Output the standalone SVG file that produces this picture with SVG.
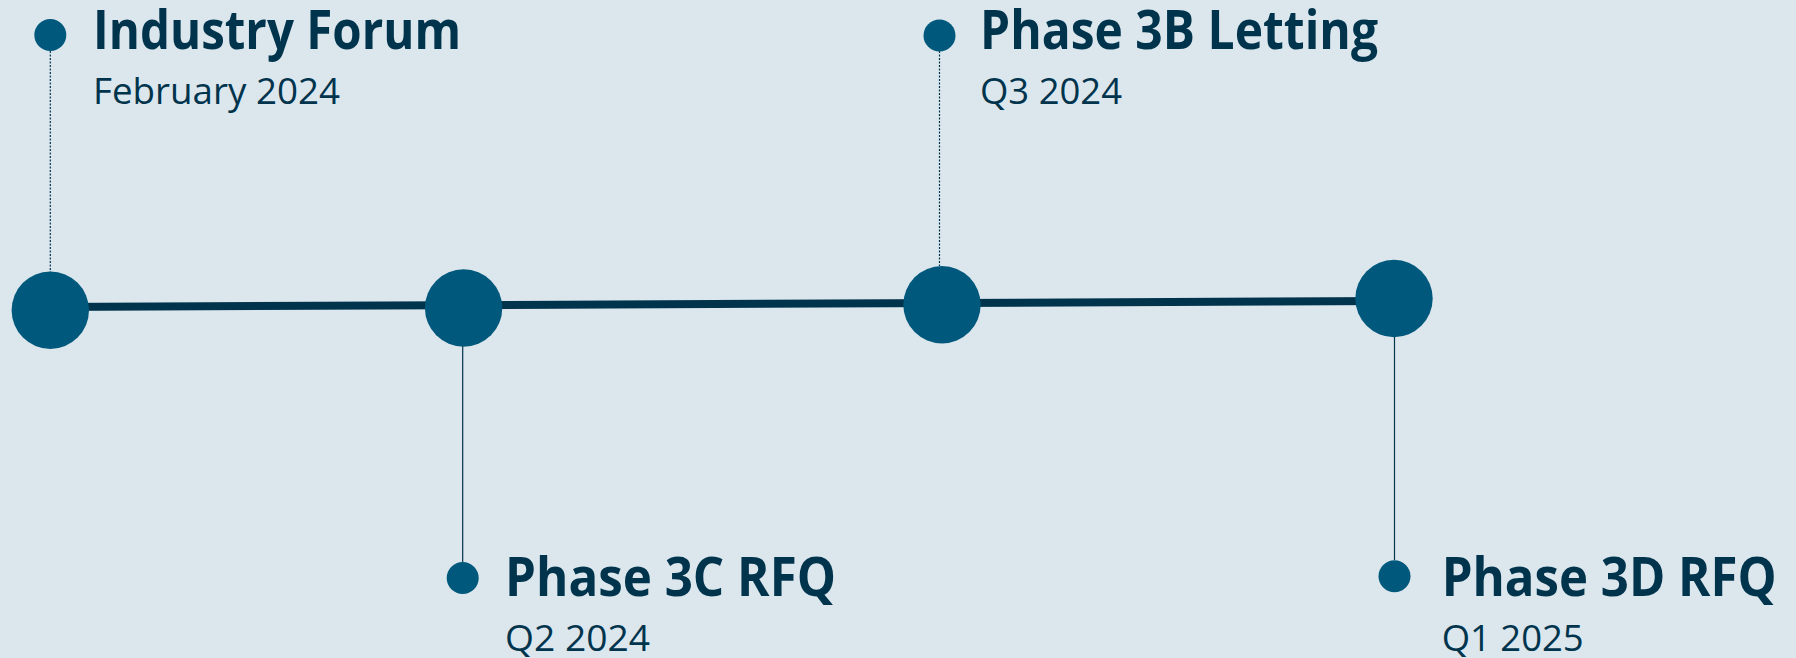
<svg xmlns="http://www.w3.org/2000/svg" width="1796" height="658" viewBox="0 0 1796 658">
<style>
.bg{fill:#DCE6ED}
.big{fill:#00597C}
.dot{fill:#00597C}
.main{stroke:#00344D;stroke-width:8;fill:none}
.lead{stroke:#00344D;stroke-width:1.2;fill:none}
.dotted{stroke-dasharray:2 1.5}
.title{font-family:"Open Sans","Noto Sans",sans-serif;font-weight:bold;font-size:53px;fill:#00344D}
.sub{font-family:"Open Sans","Noto Sans",sans-serif;font-size:36px;fill:#00344D}
</style>
<rect class="bg" x="0" y="0" width="1796" height="658"/>
<g id="connectors">
<path class="main" d="M50 307 L1394 301"/>
<path class="lead dotted" d="M50.3 51 L50.3 272"/>
<path class="lead dotted" d="M939.5 51 L939.5 266"/>
<path class="lead" d="M462.7 346 L462.7 562"/>
<path class="lead" d="M1394.5 337 L1394.5 560"/>
</g>
<g id="industry-forum">
<circle class="big" cx="50.3" cy="310.2" r="38.7"/>
<circle class="dot" cx="50.3" cy="35" r="16"/>
<text class="title" x="93" y="49" textLength="368" lengthAdjust="spacingAndGlyphs">Industry Forum</text>
<text class="sub" x="93" y="104" textLength="247" lengthAdjust="spacingAndGlyphs">February 2024</text>
</g>
<g id="phase-3c">
<circle class="big" cx="463.6" cy="308" r="38.7"/>
<circle class="dot" cx="462.7" cy="578" r="16"/>
<text class="title" x="505" y="596" textLength="331" lengthAdjust="spacingAndGlyphs">Phase 3C RFQ</text>
<text class="sub" x="505" y="651" textLength="145" lengthAdjust="spacingAndGlyphs">Q2 2024</text>
</g>
<g id="phase-3b">
<circle class="big" cx="942" cy="304.7" r="38.7"/>
<circle class="dot" cx="939.5" cy="35.5" r="16"/>
<text class="title" x="980" y="49" textLength="398" lengthAdjust="spacingAndGlyphs">Phase 3B Letting</text>
<text class="sub" x="980" y="104" textLength="142" lengthAdjust="spacingAndGlyphs">Q3 2024</text>
</g>
<g id="phase-3d">
<circle class="big" cx="1394" cy="298.5" r="38.7"/>
<circle class="dot" cx="1394.5" cy="576.3" r="16"/>
<text class="title" x="1441.7" y="596" textLength="335" lengthAdjust="spacingAndGlyphs">Phase 3D RFQ</text>
<text class="sub" x="1441.7" y="651" textLength="142" lengthAdjust="spacingAndGlyphs">Q1 2025</text>
</g>
</svg>
